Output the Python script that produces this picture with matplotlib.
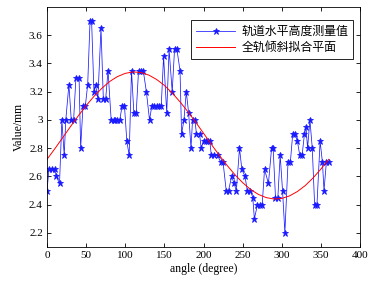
import numpy as np
import matplotlib
matplotlib.use('Agg')
import matplotlib.pyplot as plt

angle = [0, 2.5, 6, 10, 12, 16, 19, 22, 24, 28,
         31, 34, 37, 41, 43, 46, 49, 52, 55, 57,
         60, 62, 65, 69, 72, 75, 78, 82, 85, 87,
         90, 93, 96, 99, 102, 105, 108, 111, 114, 117,
         120, 123, 127, 131, 134, 137, 140, 143, 146, 149,
         153, 156, 160, 163, 166, 170, 172, 175, 178, 181,
         184, 186, 189, 191, 195, 197, 200, 203, 206, 208,
         210, 214, 218, 222, 225, 229, 232, 236, 239, 242,
         246, 249, 253, 256, 260, 263, 265, 269, 272, 275,
         278, 283, 287, 289, 292, 295, 298, 301, 304, 308,
         311, 314, 317, 320, 323, 326, 329, 331, 333, 336,
         339, 342, 345, 349, 352, 354, 357, 360]
level = [2.5, 2.65, 2.65, 2.65, 2.6, 2.55, 3.0, 2.75, 3.0, 3.25,
         3.0, 3.0, 3.3, 3.3, 2.8, 3.1, 3.1, 3.25, 3.7, 3.7,
         3.2, 3.25, 3.15, 3.65, 3.15, 3.15, 3.35, 3.0, 3.0, 3.0,
         3.0, 3.0, 3.1, 3.1, 2.85, 2.75, 3.35, 3.05, 3.05, 3.35,
         3.35, 3.35, 3.2, 3.0, 3.1, 3.1, 3.1, 3.1, 3.1, 3.45,
         3.05, 3.5, 3.2, 3.5, 3.5, 3.35, 2.9, 3.0, 3.2, 3.05,
         2.8, 3.0, 3.0, 2.9, 2.9, 2.8, 2.85, 2.85, 2.85, 2.85,
         2.75, 2.75, 2.75, 2.7, 2.7, 2.5, 2.5, 2.6, 2.55, 2.5,
         2.8, 2.65, 2.6, 2.5, 2.5, 2.45, 2.3, 2.4, 2.4, 2.4,
         2.65, 2.55, 2.8, 2.8, 2.45, 2.45, 2.75, 2.5, 2.2, 2.7,
         2.7, 2.9, 2.9, 2.85, 2.75, 2.75, 2.9, 2.95, 2.8, 3.0,
         2.8, 2.4, 2.4, 2.85, 2.7, 2.5, 2.7, 2.7]

# fitted plane curve (read every 10 degrees)
fit_angle = list(range(0, 361, 10))
fit_level = [2.721, 2.796, 2.874, 2.953, 3.029, 3.101, 3.167, 3.224, 3.272, 3.307,
             3.330, 3.340, 3.336, 3.318, 3.287, 3.245, 3.191, 3.128, 3.059, 2.984,
             2.906, 2.827, 2.751, 2.679, 2.613, 2.556, 2.508, 2.473, 2.450, 2.440,
             2.444, 2.462, 2.493, 2.535, 2.589, 2.652, 2.721]

plt.rcParams['font.family'] = ['Liberation Serif', 'DejaVu Serif']

fig = plt.figure(figsize=(3.72, 2.91), dpi=100)
ax = fig.add_axes([47 / 372, 1 - 247 / 291, 313 / 372, 240 / 291])

ax.plot(angle, level, '-*', color='#1a1aff', lw=0.55, ms=5, mew=0.6,
        label='轨道水平高度测量值')
ax.plot(fit_angle, fit_level, '-', color='#ff0000', lw=0.7,
        label='全轨倾斜拟合平面')

ax.set_xlim(0, 400)
ax.set_ylim(2.1, 3.8)
ax.set_xticks(np.arange(0, 401, 50))
yt = [2.2, 2.4, 2.6, 2.8, 3.0, 3.2, 3.4, 3.6]
ax.set_yticks(yt)
ax.set_yticklabels(['2.2', '2.4', '2.6', '2.8', '3', '3.2', '3.4', '3.6'])
ax.tick_params(direction='in', top=True, right=True, length=3, width=0.6,
               labelsize=8, pad=3)
for s in ax.spines.values():
    s.set_linewidth(0.6)

ax.set_xlabel('angle (degree)', fontsize=8.5, labelpad=2)
ax.set_ylabel('Value/mm', fontsize=8.5, labelpad=3)

leg = ax.legend(loc='upper right', bbox_to_anchor=(0.978, 0.946), borderaxespad=0,
                prop={'family': ['Noto Sans CJK SC', 'DejaVu Sans'], 'size': 8.6},
                fancybox=False, framealpha=1, edgecolor='black',
                handlelength=3.3, handletextpad=0.5, borderpad=0.4, labelspacing=0.3)
leg.get_frame().set_linewidth(0.6)

fig.savefig('out.png', dpi=100)
